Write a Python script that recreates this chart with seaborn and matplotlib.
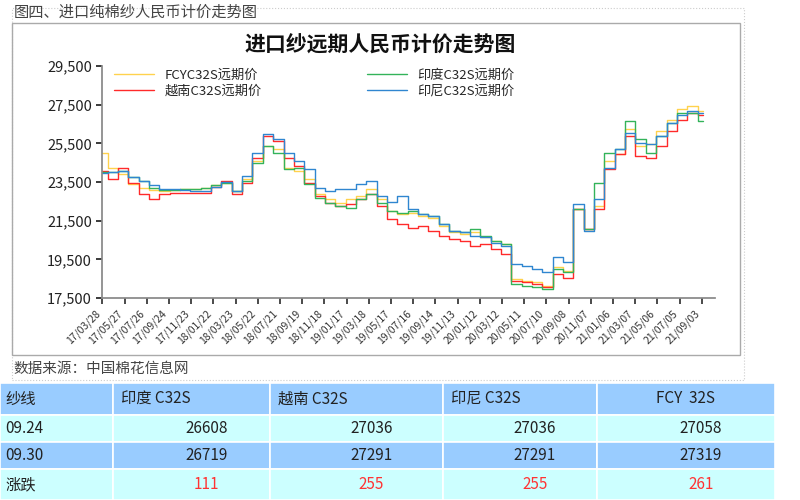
import numpy as np
import pandas as pd
import matplotlib
matplotlib.use("Agg")
from matplotlib import pyplot as plt
from matplotlib.patches import Rectangle
from matplotlib.ticker import FuncFormatter
import seaborn as sns

sns.set(style="white", font="Noto Sans CJK SC")
plt.rcParams["axes.unicode_minus"] = False

# Tick labels
tick_labels = ["17/03/28", "17/05/27", "17/07/26", "17/09/24", "17/11/23", "18/01/22",
               "18/03/23", "18/05/22", "18/07/21", "18/09/19", "18/11/18", "19/01/17",
               "19/03/18", "19/05/17", "19/07/16", "19/09/14", "19/11/13", "20/01/12",
               "20/03/12", "20/05/11", "20/07/10", "20/09/08", "20/11/07", "21/01/06",
               "21/03/07", "21/05/06", "21/07/05", "21/09/03"]

# Series values
fcy = [25010, 24240, 23900, 23380, 23210, 23090, 23040, 23090, 23120, 23160,
       23210, 23330, 23470, 23040, 23640, 24580, 25360, 25190, 24240, 24070,
       23640, 22860, 22600, 22430, 22600, 22780, 23120, 22600, 22000, 21830,
       21920, 21750, 21660, 21230, 20890, 20800, 20890, 20630, 20460, 20280,
       18480, 18390, 18310, 18130, 19080, 18910, 22090, 21060, 22260, 24580,
       24930, 26220, 25360, 25440, 26130, 26730, 27250, 27420, 27160]
india = [24000, 24020, 24070, 23780, 23550, 23210, 23090, 23090, 23120, 23160,
         23210, 23330, 23470, 23040, 23550, 24500, 25360, 25010, 24150, 24240,
         23380, 22690, 22430, 22260, 22180, 22600, 22860, 22430, 22000, 21920,
         22000, 21830, 21750, 21320, 20970, 20890, 21060, 20710, 20460, 20280,
         18220, 18130, 18050, 17960, 18990, 18820, 22090, 21060, 23470, 25010,
         25190, 26650, 25700, 25010, 25870, 26560, 27080, 27080, 26650]
vietnam = [24070, 23640, 24240, 23470, 22860, 22600, 22860, 22920, 22950, 22920,
           22950, 23260, 23550, 22860, 23470, 24760, 25870, 25620, 24760, 24330,
           23470, 22780, 22430, 22260, 22350, 22600, 22860, 22260, 21570, 21320,
           21140, 21230, 20970, 20710, 20540, 20460, 20200, 20280, 20030, 19770,
           18390, 18310, 18220, 18050, 18740, 18560, 22090, 21060, 22090, 24150,
           24930, 25870, 24840, 24760, 25360, 26130, 26730, 27080, 26990]
indonesia = [23980, 24020, 24070, 23780, 23550, 23330, 23160, 23120, 23090, 23050,
             23040, 23260, 23500, 23040, 23810, 25010, 25960, 25700, 25010, 24580,
             24150, 23210, 23040, 23120, 23160, 23380, 23550, 22780, 22450, 22780,
             22090, 21830, 21750, 21320, 20970, 20890, 20710, 20630, 20370, 20200,
             19250, 19170, 18990, 18820, 19600, 19340, 22350, 20970, 22610, 24240,
             25190, 26050, 25530, 25440, 25870, 26560, 26990, 27160, 27080]

series_names = ["FCYC32S远期价", "越南C32S远期价", "印度C32S远期价", "印尼C32S远期价"]
series_colors = ["#ffd24d", "#ff2a2a", "#33b35a", "#2f86d0"]

# Table data
table_header = ["纱线", "印度 C32S", "越南 C32S", "印尼 C32S", "FCY  32S"]
row_0924 = ["09.24", "26608", "27036", "27036", "27058"]
row_0930 = ["09.30", "26719", "27291", "27291", "27319"]
row_change = ["涨跌", "111", "255", "255", "261"]

frames = []
for name, vals in zip(series_names, [fcy, vietnam, india, indonesia]):
    frames.append(pd.DataFrame({"idx": np.arange(len(vals)), "price": vals, "series": name}))
df = pd.concat(frames, ignore_index=True)

fig = plt.figure(figsize=(8, 5), dpi=100)
fig.patch.set_facecolor("white")

# Outer frames
fig.add_artist(Rectangle((0.015, 0.24), 0.915, 0.745, transform=fig.transFigure,
                         fill=False, edgecolor="#cccccc", lw=0.8, ls=":"))
fig.add_artist(Rectangle((0.015, 0.29), 0.91, 0.665, transform=fig.transFigure,
                         fill=False, edgecolor="#aaaaaa", lw=1.0))
fig.text(0.017, 0.975, "图四、进口纯棉纱人民币计价走势图", fontsize=11, color="#444444", va="center")
fig.text(0.475, 0.91, "进口纱远期人民币计价走势图", fontsize=15, fontweight="bold",
         ha="center", va="center", color="#111111")
fig.text(0.017, 0.262, "数据来源：中国棉花信息网", fontsize=10.5, color="#444444", va="center")

ax = fig.add_axes([0.128, 0.404, 0.766, 0.464])
sns.lineplot(data=df, x="idx", y="price", hue="series", palette=series_colors,
             hue_order=series_names, ax=ax, lw=1.0, drawstyle="steps-mid")
ax.set_ylim(17500, 29500)
ax.set_yticks(np.arange(17500, 29501, 2000))
ax.yaxis.set_major_formatter(FuncFormatter(lambda v, p: f"{int(v):,}"))
ax.set_xlim(0, len(fcy) - 1 + 1.2)
ax.set_xticks(np.linspace(0, 57.9, len(tick_labels)))
ax.set_xticklabels(tick_labels, rotation=45, ha="right", fontsize=7.5, color="#333333")
ax.tick_params(axis="y", labelsize=10.5, colors="#222222", length=4, left=True)
ax.tick_params(axis="x", length=4, bottom=True, colors="#333333")
ax.set_xlabel("")
ax.set_ylabel("")
for s in ["top", "right"]:
    ax.spines[s].set_visible(False)
for s in ["left", "bottom"]:
    ax.spines[s].set_color("#888888")
ax.legend(ncol=2, loc="upper left", bbox_to_anchor=(0.0, 1.04), frameon=False,
          fontsize=9.5, columnspacing=8, handlelength=3, labelspacing=0.2)

# Table
tax = fig.add_axes([0, 0, 1, 0.235])
tax.set_xlim(0, 800)
tax.set_ylim(118, 0)
tax.axis("off")
col_x = [0, 113, 270, 443, 597, 775]
row_y = [0, 33, 60, 87, 118]
row_bg = ["#99ccff", "#ccffff", "#99ccff", "#ccffff"]
rows = [table_header, row_0924, row_0930, row_change]
for r, row in enumerate(rows):
    for c, txt in enumerate(row):
        tax.add_patch(Rectangle((col_x[c], row_y[r]), col_x[c + 1] - col_x[c],
                                row_y[r + 1] - row_y[r], facecolor=row_bg[r],
                                edgecolor="white", lw=1.2))
        cy = (row_y[r] + row_y[r + 1]) / 2
        color = "#ff3333" if (r == 3 and c > 0) else "#222222"
        if c == 0:
            tax.text(col_x[c] + 5, cy, txt, fontsize=11, va="center", color="#222222")
        elif r == 0:
            if c == 4:
                tax.text((col_x[c] + col_x[c + 1]) / 2, cy, txt, fontsize=11, va="center",
                         ha="center", color="#222222")
            else:
                tax.text(col_x[c] + 8, cy, txt, fontsize=11, va="center", color="#222222")
        else:
            tax.text(col_x[c] + 0.5 * (col_x[c + 1] - col_x[c]) + 15, cy, txt, fontsize=11,
                     va="center", ha="center", color=color)

fig.savefig("out.png", dpi=100)
